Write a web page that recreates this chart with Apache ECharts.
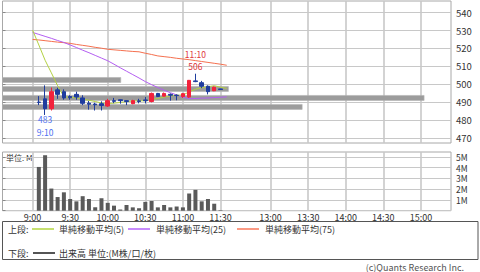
<!DOCTYPE html>
<html><head><meta charset="utf-8">
<script src="https://cdn.jsdelivr.net/npm/echarts@6/dist/echarts.min.js"></script>
<style>html,body{margin:0;padding:0;background:#fff}#c{width:480px;height:272px}</style>
</head><body><div id="c"></div>
<script>
// ---------------- data ----------------
const candleTimes = ['9:05','9:10','9:15','9:20','9:25','9:30','9:35','9:40','9:45','9:50',
  '9:55','10:00','10:05','10:10','10:15','10:20','10:25','10:30','10:35','10:40',
  '10:45','10:50','10:55','11:00','11:05','11:10','11:15','11:20','11:25','11:30'];
const opens  = [490.2,492.0,486.5,497.0,496.0,493.3,494.5,492.5,489.6,489.1,
                489.3,488.0,491.0,491.5,491.0,489.3,490.9,491.4,490.5,495.0,
                493.5,494.5,494.0,493.3,493.0,502.0,501.0,499.0,496.5,497.5];
const closes = [490.0,486.5,496.0,494.5,492.5,492.6,493.0,489.5,489.0,488.7,
                488.3,491.0,490.6,491.0,490.5,491.0,490.5,491.0,495.0,493.3,
                495.0,494.0,493.8,494.9,502.3,501.6,499.0,496.0,498.5,497.2];
const lows   = [488.5,483.0,485.5,492.0,491.5,491.5,491.5,488.5,486.0,485.5,
                485.5,487.5,489.6,489.3,488.5,489.0,489.5,489.5,490.0,493.0,
                493.3,491.0,491.2,492.5,492.5,501.3,498.0,494.5,496.3,497.1];
const highs  = [493.5,499.5,498.3,498.2,497.3,494.0,496.0,494.0,490.8,489.8,
                490.6,492.0,492.5,491.7,491.3,491.5,492.0,493.0,495.5,495.3,
                495.5,495.0,494.5,495.2,502.5,506.0,502.0,499.5,498.8,497.6];
const volumes = [4.07,5.16,2.06,1.27,1.71,1.09,0.87,1.35,1.09,0.32,
                 1.16,0.73,0.47,0.11,0.53,0.31,0.23,0.82,0.90,0.31,
                 0.53,0.31,0.39,0.31,1.60,1.94,0.87,1.09,0.65,0.05];

const maTimes = ['9:00','9:05','9:10','9:15','9:20','9:25','9:30','9:35','9:40','9:45','9:50',
  '9:55','10:00','10:05','10:10','10:15','10:20','10:25','10:30','10:35','10:40',
  '10:45','10:50','10:55','11:00','11:05','11:10','11:15','11:20','11:25','11:30','11:35'];
const ma5  = [530.3,522.0,513.5,506.5,499.3,493.2,492.8,492.6,491.8,491.2,490.5,
              489.7,489.4,489.6,490.0,490.4,490.8,490.9,490.9,491.6,492.2,
              493.0,493.6,494.0,494.1,495.9,497.3,498.3,498.7,499.3,498.5,497.8];
const ma25 = [529.0,527.9,526.8,525.7,524.5,523.4,522.0,520.6,519.1,517.7,516.2,
              514.7,513.2,511.3,509.3,507.4,505.5,503.6,501.6,499.9,498.3,
              496.8,495.4,494.2,493.0,492.1,492.2,492.4,492.5,492.7,492.9,493.1];
const ma75 = [525.1,524.8,524.4,524.0,523.6,523.3,522.9,522.3,521.8,521.3,520.7,
              520.2,519.6,519.3,519.0,518.7,518.4,518.2,517.4,516.7,515.9,
              515.5,515.1,514.6,514.2,513.8,513.3,512.8,512.3,511.8,511.3,510.7];

const profilePrices  = [502.5, 497.5, 492.5, 487.5];
const profileVolumes = [3.56, 6.80, 12.69, 9.02];

const timeTickLabels = ['9:00','9:30','10:00','10:30','11:00','11:30','13:00','13:30','14:00','14:30','15:00'];
const legendTop    = ['単純移動平均(5)','単純移動平均(25)','単純移動平均(75)'];
const legendBottom = '出来高 単位:(M株/口/枚)';

// ---------------- layout / style ----------------
const FONT = '"Noto Sans CJK JP", "DejaVu Sans", sans-serif';
const RED = '#f2223c', BLUE = '#1f3d9e';
const C5 = '#b3d143', C25 = '#b45ef2', C75 = '#f5704f';
const GL = 2.5, GR = 29;
const X_MIN = -4.8, X_MAX = 66.8;      // in 5-minute slots, 9:00 = 0, lunch compressed
const GRIDC = '#c8c8c8';

function slotOf(t){ const p = t.split(':'); const m = (+p[0])*60 + (+p[1]);
  return m < 780 ? (m - 540) / 5 : (m - 780) / 5 + 38; }

const catIds = [];
for (let i = Math.round(X_MIN*5); i <= Math.round(X_MAX*5); i++) catIds.push(String(i));
const labelMap = {};
timeTickLabels.forEach(t => { labelMap[String(Math.round(slotOf(t)*5))] = t; });
const isTick = (idx, val) => labelMap[val] !== undefined;

const lowIdx = lows.indexOf(Math.min(...lows));
const highIdx = highs.indexOf(Math.max(...highs));
const lowCoord = [slotOf(candleTimes[lowIdx]), lows[lowIdx]];
const highCoord = [slotOf(candleTimes[highIdx]), highs[highIdx]];

const chart = echarts.init(document.getElementById('c'), null, {renderer:'svg', width:480, height:272});

const hiddenVal = (grid, min, max) => ({type:'value', gridIndex:grid, min, max, show:false});
const mpLabel = (text, pos, dist, color) => ({show:true, position:pos, distance:dist, color, fontSize:8.5,
  lineHeight:8, fontFamily:FONT, formatter:String(text)});

const option = {
  animation:false,
  backgroundColor:'#fff',
  textStyle:{fontFamily:FONT},
  grid:[
    {left:GL, right:GR, top:1, height:142, show:true, borderColor:'#a8a8a8', borderWidth:1, backgroundColor:'transparent', outerBoundsMode:'none'},
    {left:GL, right:GR, top:12.6, height:125.4, outerBoundsMode:'none'},
    {left:GL, right:GR, top:152, height:58.7, show:true, borderColor:'#a8a8a8', borderWidth:1, backgroundColor:'transparent', outerBoundsMode:'none'},
    {left:GL, right:GR, top:157, height:53.7, outerBoundsMode:'none'}
  ],
  xAxis:[
    {type:'category', gridIndex:0, data:catIds, boundaryGap:false,
     axisLine:{show:false}, axisTick:{show:false}, axisLabel:{show:false},
     splitLine:{show:true, interval:isTick, lineStyle:{color:GRIDC, width:1.6}}},
    hiddenVal(0, X_MIN, X_MAX),
    hiddenVal(0, 0, 13.5),
    hiddenVal(1, 0, 1),
    {type:'category', gridIndex:2, data:catIds, boundaryGap:false,
     axisLine:{show:false}, axisTick:{show:false},
     axisLabel:{show:true, interval:isTick, formatter:v => labelMap[v] || '', color:'#333', fontSize:9, lineHeight:9, margin:2, fontFamily:FONT},
     splitLine:{show:true, interval:isTick, lineStyle:{color:GRIDC, width:1.6}}},
    hiddenVal(2, X_MIN, X_MAX),
    hiddenVal(3, 0, 1)
  ],
  yAxis:[
    hiddenVal(0, 467.4, 546.5),
    {type:'value', gridIndex:1, min:470, max:540, interval:10, position:'right',
     axisLine:{show:false}, axisTick:{show:true, length:3, lineStyle:{color:'#888'}},
     axisLabel:{color:'#333', fontSize:9.5, lineHeight:11, margin:5, fontFamily:FONT},
     splitLine:{show:true, lineStyle:{color:GRIDC, width:1}}},
    hiddenVal(2, 0, 5.46),
    {type:'value', gridIndex:3, min:0, max:5, interval:1, position:'right',
     axisLine:{show:false}, axisTick:{show:true, length:3, lineStyle:{color:'#888'}},
     axisLabel:{color:'#333', fontSize:8.5, lineHeight:9, margin:5, fontFamily:FONT, formatter:v => v ? v + 'M' : ''},
     splitLine:{show:true, lineStyle:{color:GRIDC, width:1}}}
  ],
  series:[
    {type:'custom', coordinateSystem:'cartesian2d', xAxisIndex:2, yAxisIndex:0, silent:true, z:1,
     data: profilePrices.map((p,i) => [profileVolumes[i], p]),
     renderItem:(params, api) => {
       const a = api.coord([0, api.value(1)]);
       const b = api.coord([api.value(0), api.value(1)]);
       return {type:'rect', shape:{x:a[0], y:a[1]-2.5, width:b[0]-a[0], height:5},
               style:{fill:'#9c9c9c', stroke:'#b4b4b4', lineWidth:0.6}};
     }},
    {type:'line', xAxisIndex:1, yAxisIndex:0, z:2, showSymbol:false, silent:true,
     data: maTimes.map((t,i) => [slotOf(t), ma75[i]]), lineStyle:{color:C75, width:1}},
    {type:'line', xAxisIndex:1, yAxisIndex:0, z:2, showSymbol:false, silent:true,
     data: maTimes.map((t,i) => [slotOf(t), ma25[i]]), lineStyle:{color:C25, width:1}},
    {type:'line', xAxisIndex:1, yAxisIndex:0, z:2, showSymbol:false, silent:true,
     data: maTimes.map((t,i) => [slotOf(t), ma5[i]]), lineStyle:{color:C5, width:1}},
    {type:'candlestick', xAxisIndex:1, yAxisIndex:0, z:3, barWidth:4, silent:true,
     data: candleTimes.map((t,i) => [slotOf(t), opens[i], closes[i], lows[i], highs[i]]),
     itemStyle:{color:RED, color0:BLUE, borderColor:RED, borderColor0:BLUE, borderWidth:1},
     markPoint:{symbol:'circle', symbolSize:1, itemStyle:{color:'rgba(0,0,0,0)'}, silent:true,
       data:[
         {coord:lowCoord,  label:mpLabel(lows[lowIdx], 'bottom', 0, '#4d6ff0')},
         {coord:lowCoord,  label:mpLabel(candleTimes[lowIdx], 'bottom', 12.5, '#4d6ff0')},
         {coord:highCoord, label:mpLabel(highs[highIdx], 'top', 3, '#e0383c')},
         {coord:highCoord, label:mpLabel(candleTimes[highIdx], 'top', 15.5, '#e0383c')}
       ]}},
    {type:'bar', xAxisIndex:5, yAxisIndex:2, barWidth:4, silent:true,
     data: candleTimes.map((t,i) => [slotOf(t), volumes[i]]),
     itemStyle:{color:'#5a5a5a'}}
  ],
  graphic:[
    {type:'text', silent:true, x:6, y:157, style:{text:'単位: M', fill:'#333', font:'8px ' + FONT, verticalAlign:'middle', textVerticalAlign:'middle'}},
    {type:'rect', silent:true, shape:{x:2.5, y:221.5, width:475.5, height:38}, style:{fill:'none', stroke:'#555', lineWidth:1}},
    {type:'text', silent:true, x:8, y:229.5, style:{text:'上段:', fill:'#333', font:'9px ' + FONT, verticalAlign:'middle', textVerticalAlign:'middle'}},
    {type:'line', silent:true, shape:{x1:32, y1:229, x2:54, y2:229}, style:{stroke:'#c6e070', lineWidth:2}},
    {type:'text', silent:true, x:59, y:229.5, style:{text:legendTop[0], fill:'#333', font:'9px ' + FONT, verticalAlign:'middle', textVerticalAlign:'middle'}},
    {type:'line', silent:true, shape:{x1:128, y1:229, x2:150, y2:229}, style:{stroke:'#c68bfb', lineWidth:2}},
    {type:'text', silent:true, x:156, y:229.5, style:{text:legendTop[1], fill:'#333', font:'9px ' + FONT, verticalAlign:'middle', textVerticalAlign:'middle'}},
    {type:'line', silent:true, shape:{x1:237, y1:229, x2:259, y2:229}, style:{stroke:'#fb9a84', lineWidth:2}},
    {type:'text', silent:true, x:265, y:229.5, style:{text:legendTop[2], fill:'#333', font:'9px ' + FONT, verticalAlign:'middle', textVerticalAlign:'middle'}},
    {type:'text', silent:true, x:8, y:253, style:{text:'下段:', fill:'#333', font:'9px ' + FONT, verticalAlign:'middle', textVerticalAlign:'middle'}},
    {type:'line', silent:true, shape:{x1:33, y1:253, x2:55, y2:253}, style:{stroke:'#555', lineWidth:2}},
    {type:'text', silent:true, x:59, y:253, style:{text:legendBottom, fill:'#333', font:'9px ' + FONT, verticalAlign:'middle', textVerticalAlign:'middle'}},
    {type:'text', silent:true, x:464, y:267, style:{text:'(c)Quants Research Inc.', fill:'#555', font:'9px ' + FONT, align:'right', textAlign:'right', verticalAlign:'middle', textVerticalAlign:'middle'}}
  ]
};
chart.setOption(option);
</script>
</body></html>
